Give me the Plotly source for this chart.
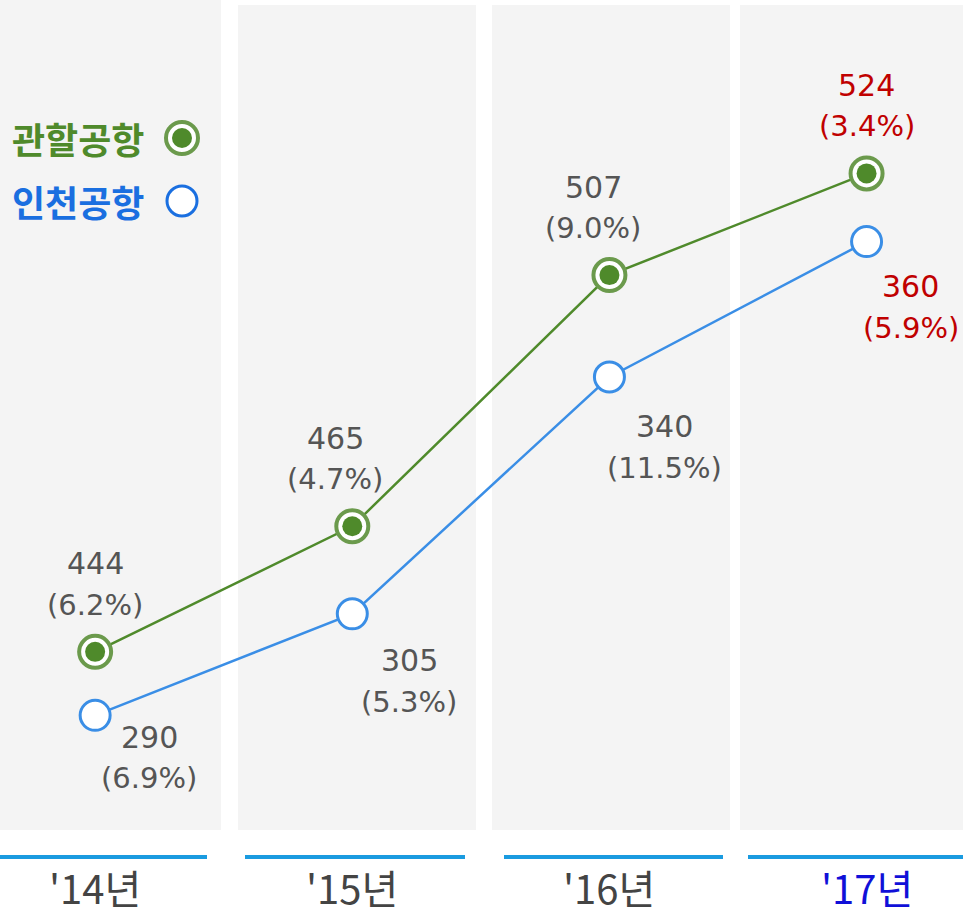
import plotly.graph_objects as go

categories = ["'14년", "'15년", "'16년", "'17년"]
gwanhal = [444, 465, 507, 524]
gwanhal_pct = ["6.2%", "4.7%", "9.0%", "3.4%"]
incheon = [290, 305, 340, 360]
incheon_pct = ["6.9%", "5.3%", "11.5%", "5.9%"]
series_names = ["관할공항", "인천공항"]

W, H = 963, 915
GREEN = "#4f8a2b"
GREEN_RING = "#6b9a4c"
BLUE = "#3a8ee6"
LEG_BLUE = "#1a6fe0"
GRAY_TXT = "#555555"
RED = "#c00000"
FONT = "'DejaVu Sans', sans-serif"
KFONT = "'Noto Sans CJK KR', sans-serif"

xs = list(range(len(categories)))

fig = go.Figure()

# gray columns and blue underlines (paper coords)
cols = [(0, 221, 0), (238, 476, 5), (492, 730, 5), (740, 963, 5)]
for x0, x1, top in cols:
    fig.add_shape(type="rect", xref="paper", yref="paper",
                  x0=x0 / W, x1=x1 / W, y0=1 - 830 / H, y1=1 - top / H,
                  fillcolor="#f4f4f4", line_width=0, layer="below")
unders = [(0, 207), (245, 465), (504, 723), (748, 963)]
for x0, x1 in unders:
    fig.add_shape(type="line", xref="paper", yref="paper",
                  x0=x0 / W, x1=x1 / W, y0=1 - 857 / H, y1=1 - 857 / H,
                  line=dict(color="#1a9be0", width=4))

# lines
fig.add_trace(go.Scatter(x=xs, y=gwanhal, mode="lines", line=dict(color=GREEN, width=2.5),
                         yaxis="y", showlegend=False, hoverinfo="skip"))
fig.add_trace(go.Scatter(x=xs, y=incheon, mode="lines", line=dict(color=BLUE, width=2.5),
                         yaxis="y2", showlegend=False, hoverinfo="skip"))
# markers
fig.add_trace(go.Scatter(x=xs, y=gwanhal, mode="markers",
                         marker=dict(size=32, color="white", line=dict(color=GREEN_RING, width=4)),
                         yaxis="y", showlegend=False))
fig.add_trace(go.Scatter(x=xs, y=gwanhal, mode="markers",
                         marker=dict(size=20, color=GREEN, line=dict(width=0)),
                         yaxis="y", showlegend=False))
fig.add_trace(go.Scatter(x=xs, y=incheon, mode="markers",
                         marker=dict(size=30, color="white", line=dict(color=BLUE, width=3)),
                         yaxis="y2", showlegend=False))

# value labels
g_offsets = [0, -17, -16, 0]
for i, (v, p) in enumerate(zip(gwanhal, gwanhal_pct)):
    col = RED if i == len(categories) - 1 else GRAY_TXT
    dx = g_offsets[i]
    fig.add_annotation(x=xs[i], y=v, yref="y", text=str(v), showarrow=False,
                       xshift=dx, yshift=88, yanchor="middle",
                       font=dict(family=FONT, size=30, color=col))
    fig.add_annotation(x=xs[i], y=v, yref="y", text=f"({p})", showarrow=False,
                       xshift=dx, yshift=47, yanchor="middle",
                       font=dict(family=FONT, size=29, color=col))
i_offsets = [54, 57, 55, 44]
i_dy = [22, 47, 50, 45]
for i, (v, p) in enumerate(zip(incheon, incheon_pct)):
    col = RED if i == len(categories) - 1 else GRAY_TXT
    fig.add_annotation(x=xs[i], y=v, yref="y2", text=str(v), showarrow=False,
                       xshift=i_offsets[i], yshift=-i_dy[i], yanchor="middle",
                       font=dict(family=FONT, size=30, color=col))
    fig.add_annotation(x=xs[i], y=v, yref="y2", text=f"({p})", showarrow=False,
                       xshift=i_offsets[i], yshift=-i_dy[i] - 41, yanchor="middle",
                       font=dict(family=FONT, size=29, color=col))

# category labels
for i, c in enumerate(categories):
    col = "#1010d8" if i == len(categories) - 1 else "#444444"
    fig.add_annotation(x=xs[i], y=1 - 887 / H, xref="x", yref="paper", text=c, showarrow=False,
                       xanchor="center", yanchor="middle",
                       font=dict(family=KFONT, size=40, color=col))

# legend
fig.add_annotation(x=10 / W, y=1 - 138 / H, xref="paper", yref="paper", xanchor="left",
                   yanchor="middle", text=f"<b>{series_names[0]}</b>", showarrow=False,
                   font=dict(family=KFONT, size=36, color=GREEN))
fig.add_annotation(x=10 / W, y=1 - 201 / H, xref="paper", yref="paper", xanchor="left",
                   yanchor="middle", text=f"<b>{series_names[1]}</b>", showarrow=False,
                   font=dict(family=KFONT, size=36, color=LEG_BLUE))
cx, cy = 182, 138
fig.add_shape(type="circle", xref="paper", yref="paper",
              x0=(cx - 16) / W, x1=(cx + 16) / W, y0=1 - (cy + 16) / H, y1=1 - (cy - 16) / H,
              fillcolor="white", line=dict(color=GREEN_RING, width=4))
fig.add_shape(type="circle", xref="paper", yref="paper",
              x0=(cx - 10) / W, x1=(cx + 10) / W, y0=1 - (cy + 10) / H, y1=1 - (cy - 10) / H,
              fillcolor=GREEN, line_width=0)
cy = 201
fig.add_shape(type="circle", xref="paper", yref="paper",
              x0=(cx - 15) / W, x1=(cx + 15) / W, y0=1 - (cy + 15) / H, y1=1 - (cy - 15) / H,
              fillcolor="white", line=dict(color=LEG_BLUE, width=3))

fig.update_layout(
    width=W, height=H,
    margin=dict(l=0, r=0, t=0, b=0),
    paper_bgcolor="white", plot_bgcolor="rgba(0,0,0,0)",
    xaxis=dict(range=[-0.37, 3.375], visible=False, fixedrange=True),
    yaxis=dict(range=[400, 553], visible=False, fixedrange=True),
    yaxis2=dict(range=[260.5, 395.7], visible=False, overlaying="y", fixedrange=True),
    showlegend=False,
)

fig.write_html("out.html", config={"displayModeBar": False},
               post_script="document.body.style.margin='0';")
